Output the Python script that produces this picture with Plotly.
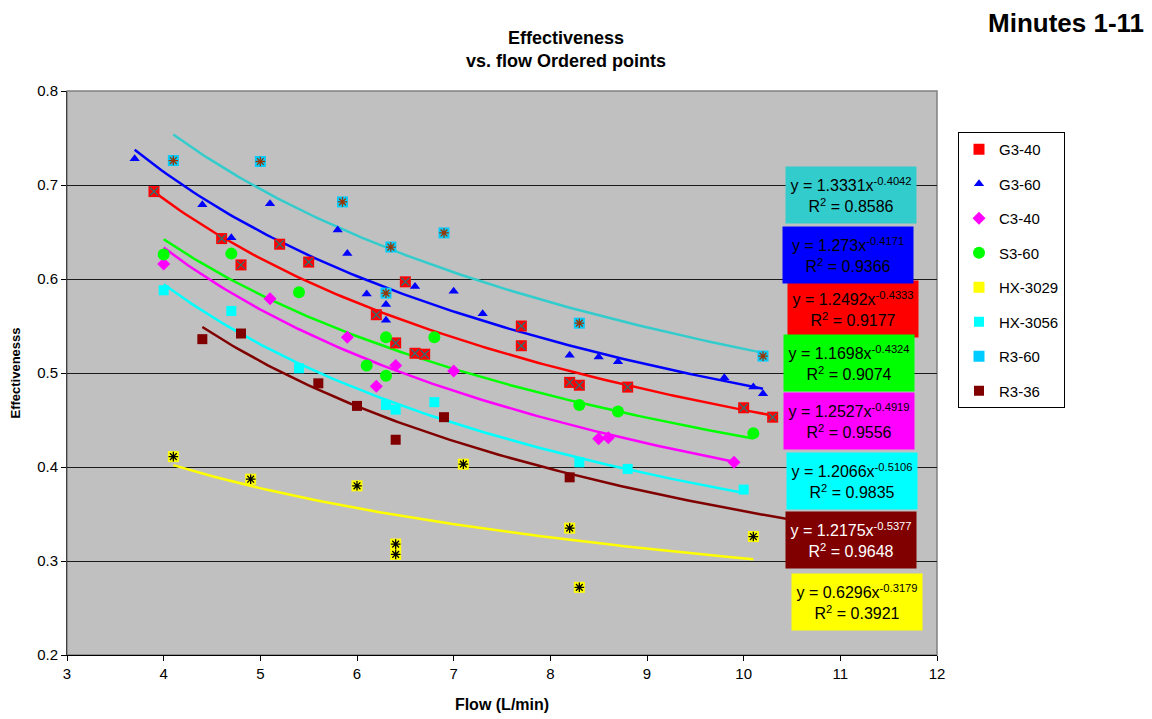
import numpy as np
import plotly.graph_objects as go

# ---------------- data ----------------
series_names = ["G3-40", "G3-60", "C3-40", "S3-60", "HX-3029", "HX-3056", "R3-60", "R3-36"]

g340_x = [3.9, 4.6, 4.8, 5.2, 5.5, 6.2, 6.4, 6.5, 6.6, 6.7, 7.7, 7.7, 8.2, 8.3, 8.8, 10.0, 10.3]
g340_y = [0.693, 0.643, 0.615, 0.637, 0.618, 0.562, 0.532, 0.597, 0.521, 0.520, 0.550, 0.529, 0.490, 0.487, 0.485, 0.463, 0.453]

g360_x = [3.7, 4.4, 4.7, 5.1, 5.8, 5.9, 6.1, 6.3, 6.3, 6.6, 7.0, 7.3, 8.2, 8.5, 8.7, 9.8, 10.1, 10.2]
g360_y = [0.728, 0.679, 0.644, 0.680, 0.652, 0.627, 0.584, 0.573, 0.556, 0.592, 0.587, 0.563, 0.519, 0.517, 0.512, 0.495, 0.485, 0.478]

c340_x = [4.0, 5.1, 5.9, 6.2, 6.4, 7.0, 8.5, 8.6, 9.9]
c340_y = [0.616, 0.579, 0.538, 0.486, 0.508, 0.502, 0.430, 0.431, 0.405]

s360_x = [4.0, 4.7, 5.4, 6.1, 6.3, 6.3, 6.8, 8.3, 8.7, 10.1]
s360_y = [0.626, 0.627, 0.586, 0.508, 0.538, 0.497, 0.538, 0.466, 0.459, 0.436]

hx3029_x = [4.1, 4.9, 6.0, 6.4, 6.4, 7.1, 8.2, 8.3, 10.1]
hx3029_y = [0.411, 0.387, 0.380, 0.318, 0.307, 0.403, 0.335, 0.272, 0.326]

hx3056_x = [4.0, 4.7, 5.4, 6.3, 6.4, 6.8, 8.3, 8.8, 10.0]
hx3056_y = [0.588, 0.566, 0.505, 0.466, 0.461, 0.469, 0.405, 0.398, 0.376]

r360_x = [4.1, 5.0, 5.85, 6.3, 6.35, 6.9, 8.3, 10.2]
r360_y = [0.726, 0.725, 0.682, 0.585, 0.634, 0.649, 0.553, 0.518]

r336_x = [4.4, 4.8, 5.6, 6.0, 6.4, 6.9, 8.2]
r336_y = [0.536, 0.542, 0.489, 0.465, 0.429, 0.453, 0.389]

# power trendlines y = a * x^b (as printed on the chart)
trend_a = [1.2492, 1.273, 1.2527, 1.1698, 0.6296, 1.2066, 1.3331, 1.2175]
trend_b = [-0.4333, -0.4171, -0.4919, -0.4324, -0.3179, -0.5106, -0.4042, -0.5377]
trend_r2 = [0.9177, 0.9366, 0.9556, 0.9074, 0.3921, 0.9835, 0.8586, 0.9648]
trend_x_end = [None, None, None, None, None, None, None, 10.6]

xs = [g340_x, g360_x, c340_x, s360_x, hx3029_x, hx3056_x, r360_x, r336_x]
ys = [g340_y, g360_y, c340_y, s360_y, hx3029_y, hx3056_y, r360_y, r336_y]

# ---------------- styles ----------------
marker_color = ["#FF0000", "#0000FF", "#FF00FF", "#00FF00", "#FFFF00", "#00FFFF", "#00CCFF", "#800000"]
marker_symbol = ["square", "triangle-up", "diamond", "circle", "square", "square", "square", "square"]
marker_size = [11, 9, 10, 12, 11, 10, 11, 10]
overlay_symbol = ["x-thin-open", None, None, None, "asterisk-open", None, "asterisk-open", None]
overlay_color = ["#2F6F6F", None, None, None, "#000000", None, "#993300", None]
line_color = ["#FF0000", "#0000FF", "#FF00FF", "#00FF00", "#FFFF00", "#00FFFF", "#33CCCC", "#800000"]
label_bg = ["#FF0000", "#0000FF", "#FF00FF", "#00FF00", "#FFFF00", "#00FFFF", "#33CCCC", "#800000"]
label_fg = ["black", "black", "black", "black", "black", "black", "black", "white"]
# label box centres in pixels (x, y)
label_px = [(853, 309), (848, 255), (849, 421), (849, 363), (857, 602), (852, 481), (851, 195), (851, 540)]

FONT = "Arial, Liberation Sans, sans-serif"
L, R, T, B = 67, 215, 91, 64
W, H = 1152, 719
PW, PH = W - L - R, H - T - B

fig = go.Figure()

# trendlines
for i in range(8):
    x0 = min(xs[i])
    x1 = trend_x_end[i] if trend_x_end[i] else max(xs[i])
    tx = np.linspace(x0, x1, 120)
    ty = trend_a[i] * tx ** trend_b[i]
    fig.add_trace(go.Scatter(x=tx, y=ty, mode="lines", line=dict(color=line_color[i], width=2.5),
                             showlegend=False, hoverinfo="skip"))

# markers
for i in range(8):
    fig.add_trace(go.Scatter(
        x=xs[i], y=ys[i], mode="markers", name=series_names[i], legendgroup=series_names[i],
        marker=dict(symbol=marker_symbol[i], size=marker_size[i], color=marker_color[i],
                    line=dict(width=0))))
    if overlay_symbol[i]:
        fig.add_trace(go.Scatter(
            x=xs[i], y=ys[i], mode="markers", legendgroup=series_names[i], showlegend=False,
            marker=dict(symbol=overlay_symbol[i], size=8, color=overlay_color[i],
                        line=dict(width=1.3, color=overlay_color[i])),
            hoverinfo="skip"))

annotations = []
for i in range(8):
    px, py = label_px[i]
    annotations.append(dict(
        xref="paper", yref="paper", x=(px - L) / PW, y=(T + PH - py) / PH,
        xanchor="center", yanchor="middle", showarrow=False,
        text=f"y = {trend_a[i]}x<sup>{trend_b[i]}</sup><br>R<sup>2</sup> = {trend_r2[i]}",
        font=dict(family=FONT, size=16, color=label_fg[i]),
        bgcolor=label_bg[i], width=126, height=52, borderpad=2, align="center"))

annotations.append(dict(
    xref="paper", yref="paper", x=(566 - L) / PW, y=(T + PH - 50) / PH,
    xanchor="center", yanchor="middle", showarrow=False,
    text="<b>Effectiveness</b><br><b>vs. flow Ordered points</b>",
    font=dict(family=FONT, size=18, color="black")))

annotations.append(dict(
    xref="paper", yref="paper", x=(1146 - L) / PW, y=(T + PH - 23) / PH,
    xanchor="right", yanchor="middle", showarrow=False,
    text="<b>Minutes 1-11</b>",
    font=dict(family=FONT, size=26, color="black")))

fig.update_layout(
    width=W, height=H,
    margin=dict(l=L, r=R, t=T, b=B, autoexpand=False),
    paper_bgcolor="white", plot_bgcolor="#C0C0C0",
    font=dict(family=FONT, size=15, color="black"),
    annotations=annotations,
    shapes=[dict(type="rect", xref="paper", yref="paper", x0=0, y0=0, x1=1, y1=1,
                 line=dict(color="#808080", width=1.5), layer="below")],
    legend=dict(x=(958 - L) / PW, y=(T + PH - 132) / PH, xanchor="left", yanchor="top",
                bgcolor="white", bordercolor="black", borderwidth=1,
                font=dict(family=FONT, size=15), tracegroupgap=12, itemwidth=30),
    xaxis=dict(range=[3, 12], tick0=3, dtick=1, ticks="outside", ticklen=5, tickcolor="black",
               showline=True, linecolor="black", linewidth=1, showgrid=False, zeroline=False,
               tickfont=dict(size=15),
               title=dict(text="<b>Flow (L/min)</b>", font=dict(size=16), standoff=17)),
    yaxis=dict(range=[0.2, 0.8], tick0=0.2, dtick=0.1, tickformat=".1f", ticks="outside", ticklen=5,
               tickcolor="black", showline=True, linecolor="#404040", linewidth=1,
               showgrid=True, gridcolor="#1a1a1a", gridwidth=1, zeroline=False,
               tickfont=dict(size=15),
               title=dict(text="<b>Effectivenesss</b>", font=dict(size=13), standoff=13)),
)

fig.write_html("out.html", config={"displayModeBar": False},
               post_script="document.body.style.margin='0';")
